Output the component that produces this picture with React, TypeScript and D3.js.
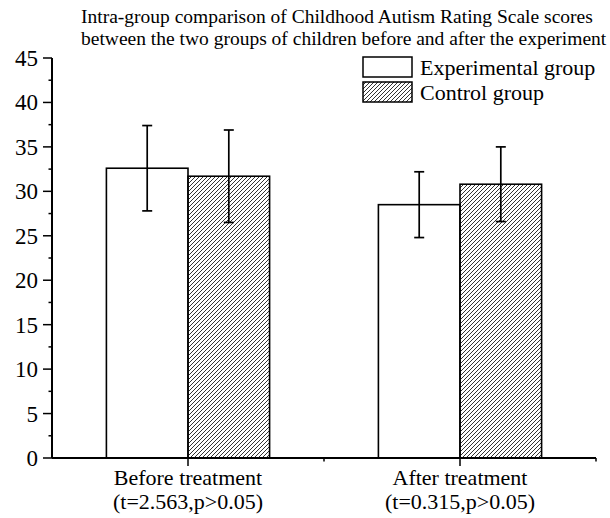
import React, { useRef, useEffect } from 'react';
import * as d3 from 'd3';

// chart data
const categories = ['Before treatment', 'After treatment'];
const statLabels = ['(t=2.563,p>0.05)', '(t=0.315,p>0.05)'];
const groups = ['Experimental group', 'Control group'];
const means = [
  [32.6, 31.7],
  [28.5, 30.8],
];
const sds = [
  [4.8, 5.2],
  [3.7, 4.2],
];
const yTicks = [0, 5, 10, 15, 20, 25, 30, 35, 40, 45];

const titleLines = [
  'Intra-group comparison of Childhood Autism Rating Scale scores',
  'between the two groups of children before and after the experiment',
];

const W = 610;
const H = 518;
const FONT = '"Liberation Serif", "Times New Roman", serif';

const App = () => {
  const svgRef = useRef<SVGSVGElement>(null);

  useEffect(() => {
    const svg = d3.select(svgRef.current);
    svg.selectAll('*').remove();

    const left = 52, right = 596, top = 58, bottom = 458;

    // hatch pattern
    const defs = svg.append('defs');
    defs.append('pattern')
      .attr('id', 'hatch')
      .attr('patternUnits', 'userSpaceOnUse')
      .attr('width', 4)
      .attr('height', 4)
      .append('path')
      .attr('d', 'M-1,1 l2,-2 M0,4 l4,-4 M3,5 l2,-2')
      .attr('stroke', '#333')
      .attr('stroke-width', 1);

    const y = d3.scaleLinear().domain([0, 45]).range([bottom, top]);
    const x0 = d3.scaleBand().domain(categories).range([left, right])
      .paddingInner(0.4).paddingOuter(0.2);
    const x1 = d3.scaleBand().domain(groups).range([0, x0.bandwidth()]);

    const fills = ['#fff', 'url(#hatch)'];

    // bars
    categories.forEach((cat, i) => {
      groups.forEach((g, j) => {
        const bx = (x0(cat) as number) + (x1(g) as number);
        svg.append('rect')
          .attr('x', bx)
          .attr('y', y(means[i][j]))
          .attr('width', x1.bandwidth())
          .attr('height', y(0) - y(means[i][j]))
          .attr('fill', fills[j])
          .attr('stroke', '#000')
          .attr('stroke-width', 1.6);
      });
    });

    // error bars
    categories.forEach((cat, i) => {
      groups.forEach((g, j) => {
        const cx = (x0(cat) as number) + (x1(g) as number) + x1.bandwidth() / 2;
        const hi = y(means[i][j] + sds[i][j]);
        const lo = y(means[i][j] - sds[i][j]);
        const eb = svg.append('g').attr('stroke', '#000').attr('stroke-width', 1.7);
        eb.append('line').attr('x1', cx).attr('x2', cx).attr('y1', hi).attr('y2', lo);
        eb.append('line').attr('x1', cx - 5).attr('x2', cx + 5).attr('y1', hi).attr('y2', hi);
        eb.append('line').attr('x1', cx - 5).attr('x2', cx + 5).attr('y1', lo).attr('y2', lo);
      });
    });

    // y axis
    const yAxis = svg.append('g').attr('transform', `translate(${left},0)`);
    yAxis.append('line')
      .attr('x1', 0).attr('x2', 0).attr('y1', y(45)).attr('y2', y(0))
      .attr('stroke', '#000').attr('stroke-width', 2);
    d3.range(0, 45.1, 2.5).forEach(v => {
      const major = v % 5 === 0;
      yAxis.append('line')
        .attr('x1', major ? -9 : -3.5).attr('x2', 0)
        .attr('y1', y(v)).attr('y2', y(v))
        .attr('stroke', '#000').attr('stroke-width', 1.5);
    });
    yTicks.forEach(v => {
      yAxis.append('text')
        .attr('x', -14)
        .attr('y', y(v))
        .attr('dy', '0.35em')
        .attr('text-anchor', 'end')
        .attr('font-family', FONT)
        .attr('font-size', 23)
        .text(v);
    });

    // x axis
    const xAxis = svg.append('g').attr('transform', `translate(0,${bottom})`);
    xAxis.append('line')
      .attr('x1', left).attr('x2', right).attr('y1', 0).attr('y2', 0)
      .attr('stroke', '#000').attr('stroke-width', 2);
    categories.forEach((cat, i) => {
      const cx = (x0(cat) as number) + x0.bandwidth() / 2;
      xAxis.append('line')
        .attr('x1', cx).attr('x2', cx).attr('y1', 0).attr('y2', 8)
        .attr('stroke', '#000').attr('stroke-width', 1.5);
      const bx = cx + x0.step() / 2;
      xAxis.append('line')
        .attr('x1', bx).attr('x2', bx).attr('y1', 0).attr('y2', 3.5)
        .attr('stroke', '#000').attr('stroke-width', 1.5);
      xAxis.append('text')
        .attr('x', cx).attr('y', 27)
        .attr('text-anchor', 'middle')
        .attr('font-family', FONT).attr('font-size', 22)
        .text(cat);
      xAxis.append('text')
        .attr('x', cx).attr('y', 51)
        .attr('text-anchor', 'middle')
        .attr('font-family', FONT).attr('font-size', 22)
        .text(statLabels[i]);
    });

    // title
    titleLines.forEach((t, i) => {
      svg.append('text')
        .attr('x', 81).attr('y', 23 + i * 22)
        .attr('font-family', FONT).attr('font-size', 19.5)
        .text(t);
    });

    // legend
    groups.forEach((g, j) => {
      const ly = 57 + j * 25;
      svg.append('rect')
        .attr('x', 363).attr('y', ly)
        .attr('width', 49).attr('height', 20)
        .attr('fill', fills[j])
        .attr('stroke', '#000').attr('stroke-width', 1.5);
      svg.append('text')
        .attr('x', 420).attr('y', ly + 18)
        .attr('font-family', FONT).attr('font-size', 22)
        .text(g);
    });
  }, []);

  return (
    <svg
      ref={svgRef}
      width={W}
      height={H}
      style={{ position: 'absolute', left: 0, top: 0, background: '#fff' }}
    />
  );
};

export default App;
